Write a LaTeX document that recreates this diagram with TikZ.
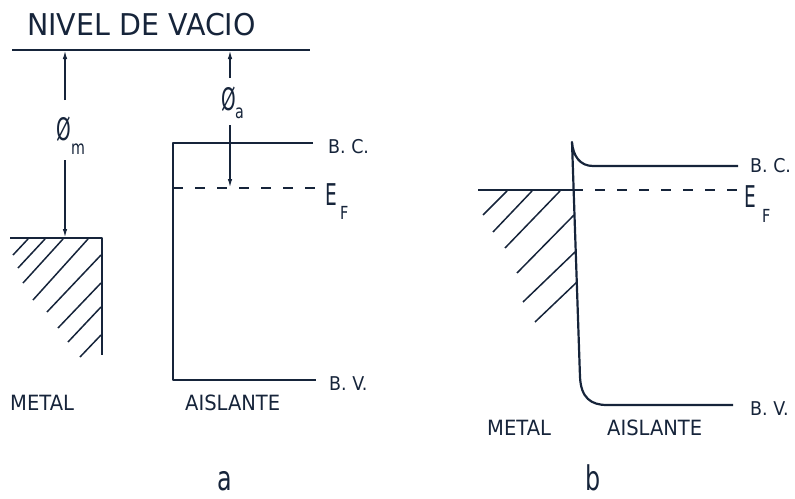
\documentclass[tikz,border=0pt]{standalone}
\usepackage{fontspec}
\setmainfont{DejaVu Sans}
\usetikzlibrary{arrows.meta}
\definecolor{ink}{RGB}{22,36,58}
\begin{document}
\begin{tikzpicture}[x=1pt,y=-1pt,
  band/.style={draw=ink,line width=2.2pt,line join=round},
  hatchline/.style={draw=ink,line width=1.5pt},
  fermi/.style={draw=ink,line width=1.9pt,dash pattern=on 10pt off 12pt},
  wf/.style={draw=ink,line width=1.6pt,-{Latex[length=9pt,width=4.5pt]}},
  lab/.style={text=ink,inner sep=0pt,anchor=base west},
  big/.style={lab,font=\fontsize{30}{32}\selectfont,xscale=0.95},
  mid/.style={lab,font=\fontsize{21}{23}\selectfont,xscale=0.93},
  small/.style={lab,font=\fontsize{19}{21}\selectfont,xscale=0.92},
  efE/.style={lab,font=\fontsize{30}{32}\selectfont,xscale=0.62},
  efF/.style={lab,font=\fontsize{18}{20}\selectfont,xscale=0.8},
  phi/.style={lab,font=\fontsize{31}{33}\selectfont,xscale=0.6},
  sub/.style={lab,font=\fontsize{19}{21}\selectfont,xscale=0.75},
  tag/.style={lab,font=\fontsize{34}{36}\selectfont,xscale=0.7},
 ]
\useasboundingbox (0,0) rectangle (795,498);

% ---------------- panel a ----------------
\node[big] (title) at (27,35) {NIVEL DE VACIO};
\coordinate (vacL) at (12,50);
\coordinate (vacR) at (310,50);
\draw[band] (vacL) -- (vacR);

% metal (a)
\coordinate (mL) at (10,238);
\coordinate (mR) at (102,238);
\coordinate (mB) at (102,355);
\draw[band] (mL) -- (mR) -- (mB);
\draw[hatchline] (28,239) -- (13,255);
\draw[hatchline] (45,239) -- (18,268);
\draw[hatchline] (63,239) -- (23,283);
\draw[hatchline] (88,239) -- (33,300);
\draw[hatchline] (101,255) -- (47,312);
\draw[hatchline] (101,283) -- (58,328);
\draw[hatchline] (101,307) -- (68,342);
\draw[hatchline] (101,335) -- (80,357);

% insulator (a)
\coordinate (cbR) at (313,143);
\coordinate (cbL) at (173,143);
\coordinate (vbL) at (173,380);
\coordinate (vbR) at (316,380);
\draw[band] (cbR) -- (cbL) -- (vbL) -- (vbR);
\coordinate (efL) at (173,188);
\coordinate (efR) at (315,188);
\draw[fermi] (efL) -- (efR);

% work functions
\node[phi] (phim) at (56,140) {Ø};
\node[sub] (phimsub) at (71,154) {m};
\coordinate (pmTop) at (65,100);
\coordinate (pmVac) at (65,50);
\coordinate (pmBot) at (65,160);
\coordinate (pmMet) at (65,238);
\draw[wf] (pmTop) -- (pmVac);
\draw[wf] (pmBot) -- (pmMet);

\node[phi] (phia) at (221,110) {Ø};
\node[sub] (phiasub) at (235,118) {a};
\coordinate (paTop) at (230,78);
\coordinate (paVac) at (230,50);
\coordinate (paBot) at (230,125);
\coordinate (paEF) at (230,188);
\draw[wf] (paTop) -- (paVac);
\draw[wf] (paBot) -- (paEF);

% labels (a)
\node[small] (bca) at (328,153) {B. C.};
\node[efE] (Ea) at (325,205) {E};
\node[efF] (Fa) at (340,219) {F};
\node[small] (bva) at (329,390) {B. V.};
\node[mid] (meta) at (10,410) {METAL};
\node[mid] (aisa) at (185,410) {AISLANTE};
\node[tag] (taga) at (217,490) {a};

% ---------------- panel b ----------------
\coordinate (mbL) at (478,190);
\coordinate (mbJ) at (573,190);
\draw[band] (mbL) -- (mbJ);
\coordinate (efbR) at (737,190);
\draw[fermi] (mbJ) -- (efbR);

\coordinate (cbbR) at (738,166);
\coordinate (cbbK) at (593,166);
\coordinate (spike) at (572,142);
\coordinate (ifB) at (580,377);
\coordinate (vbbK) at (607,405);
\coordinate (vbbR) at (733,405);
\draw[band] (cbbR) -- (cbbK) .. controls (580,166) and (573,156) .. (spike)
  -- (ifB) .. controls (581,398) and (591,405) .. (vbbK) -- (vbbR);

\draw[hatchline] (507,191) -- (483,215);
\draw[hatchline] (532,191) -- (493,232);
\draw[hatchline] (560,191) -- (505,248);
\draw[hatchline] (574,215) -- (517,273);
\draw[hatchline] (575,252) -- (523,302);
\draw[hatchline] (577,282) -- (535,322);

\node[small] (bcb) at (750,172) {B. C.};
\node[efE] (Eb) at (744,207) {E};
\node[efF] (Fb) at (762,222) {F};
\node[small] (bvb) at (750,415) {B. V.};
\node[mid] (metb) at (487,435) {METAL};
\node[mid] (aisb) at (607,435) {AISLANTE};
\node[tag] (tagb) at (585,490) {b};
\end{tikzpicture}
\end{document}
